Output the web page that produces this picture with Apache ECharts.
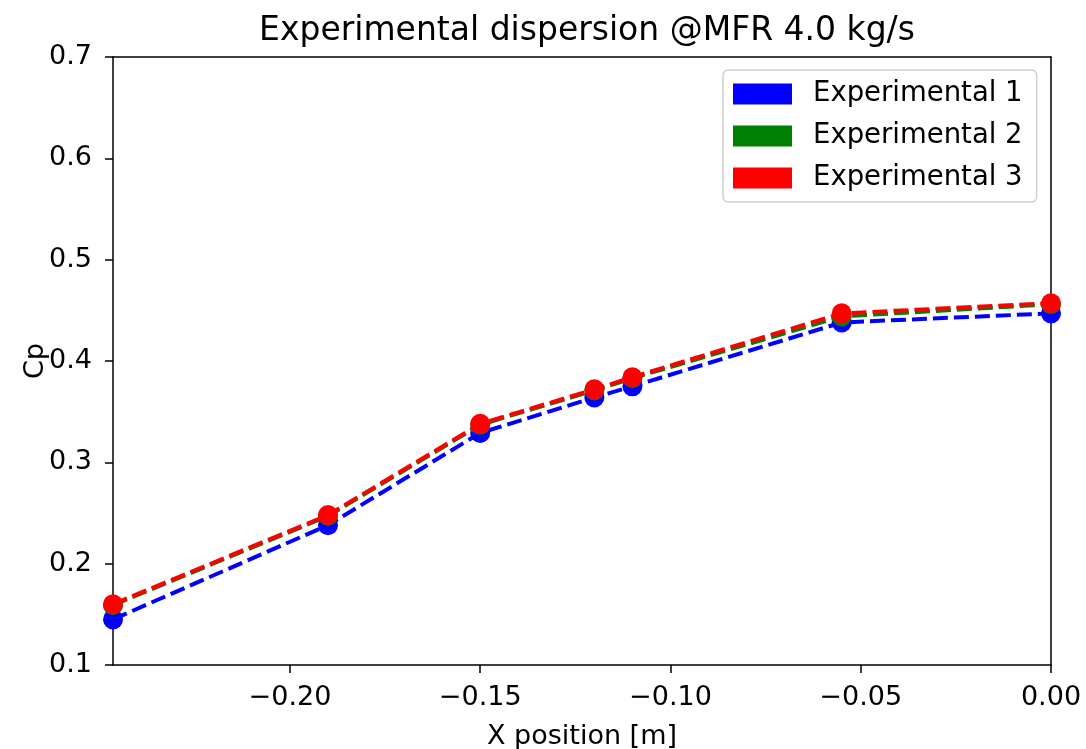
<!DOCTYPE html>
<html><head><meta charset="utf-8">
<script src="https://cdn.jsdelivr.net/npm/echarts@6/dist/echarts.min.js"></script>
<style>html,body{margin:0;padding:0;background:#fff}#c{width:1086px;height:749px}</style>
</head><body><div id="c"></div>
<script>
const xPositions = [-0.2465, -0.19, -0.15, -0.12, -0.11, -0.055, 0.0];
const exp1 = [0.145, 0.238, 0.329, 0.364, 0.375, 0.438, 0.447];
const exp2 = [0.159, 0.247, 0.337, 0.371, 0.383, 0.444, 0.456];
const exp3 = [0.160, 0.248, 0.338, 0.372, 0.384, 0.447, 0.457];
const seriesNames = ['Experimental 1', 'Experimental 2', 'Experimental 3'];
const seriesColors = ['#0000ff', '#008000', '#ff0000'];
const xTicks = [-0.2, -0.15, -0.1, -0.05, 0];

const font = 'DejaVu Sans';
const chart = echarts.init(document.getElementById('c'), null, {renderer:'canvas'});
const data = [exp1, exp2, exp3];
const fmtX = v => (v < 0 ? '\u2212' : '') + Math.abs(v).toFixed(2);
const frameLine = {show:true, onZero:false, lineStyle:{color:'#000', width:1.5}};
chart.setOption({
  animation:false,
  backgroundColor:'#fff',
  textStyle:{fontFamily:font},
  title:{text:'Experimental dispersion @MFR 4.0 kg/s', left:582, textAlign:'center', top:10,
    textStyle:{fontFamily:font, fontSize:33, fontWeight:'normal', color:'#000'}},
  grid:{left:113, right:35, top:57, bottom:84, show:false, containLabel:false, outerBoundsMode:'none'},
  legend:{orient:'vertical', left:723, top:70, data:seriesNames, icon:'rect', itemWidth:59, itemHeight:21,
    itemGap:14, padding:[10,14,10,10], borderColor:'#d0d0d0', borderWidth:1.5, borderRadius:5,
    textStyle:{fontFamily:font, fontSize:27.5, color:'#000', padding:[0,0,0,16]}},
  xAxis:[{type:'value', min:-0.2465, max:0, name:'X position [m]', nameLocation:'middle', nameGap:58,
    nameTextStyle:{fontFamily:font, fontSize:27, color:'#000'},
    axisLine:frameLine,
    axisTick:{show:true, inside:false, length:8, lineStyle:{color:'#000', width:1.5}, customValues:xTicks},
    axisLabel:{customValues:xTicks, formatter:fmtX, fontFamily:font, fontSize:27, color:'#000', margin:19},
    splitLine:{show:false}},
    {type:'value', position:'top', min:-0.2465, max:0, axisLine:frameLine, axisTick:{show:false},
    axisLabel:{show:false}, splitLine:{show:false}}],
  yAxis:[{type:'value', min:0.1, max:0.7, interval:0.1, name:'Cp', nameLocation:'middle', nameGap:64,
    nameMoveOverlap:false,
    nameTextStyle:{fontFamily:font, fontSize:27, color:'#000'},
    axisLine:frameLine,
    axisTick:{show:true, inside:false, length:8, lineStyle:{color:'#000', width:1.5}},
    axisLabel:{formatter:v=>v.toFixed(1), fontFamily:font, fontSize:27, color:'#000', margin:21},
    splitLine:{show:false}},
    {type:'value', position:'right', min:0.1, max:0.7, interval:0.1, axisLine:frameLine, axisTick:{show:false},
    axisLabel:{show:false}, splitLine:{show:false}}],
  series: seriesNames.map((n,i)=>({
    name:n, type:'line', data:xPositions.map((x,j)=>[x, data[i][j]]),
    symbol:'circle', symbolSize:20, clip:false,
    itemStyle:{color:seriesColors[i]},
    lineStyle:{color:seriesColors[i], width:4, type:[15,6]},
    z:2+i
  }))
});
</script></body></html>
